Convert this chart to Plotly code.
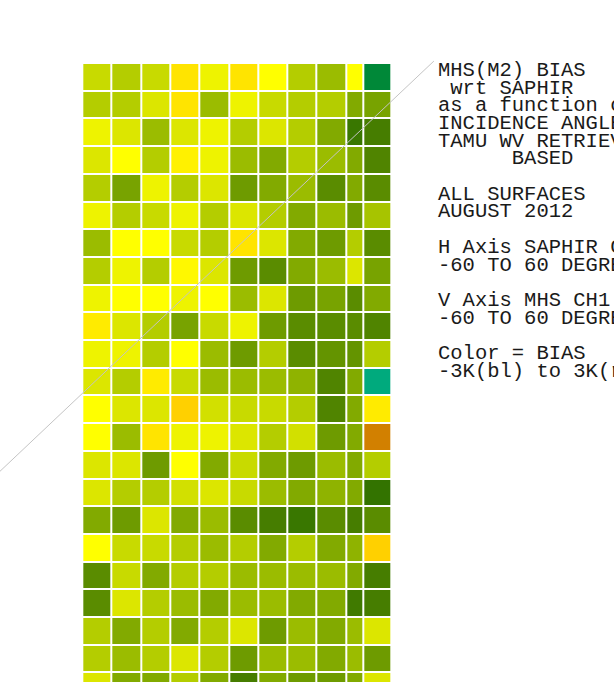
import plotly.graph_objects as go

# Column bin edges (SAPHIR angle bins, in bin units) and row bin edges (MHS angle bins)
col_edges = [0, 1, 2, 3, 4, 5, 6, 7, 8, 9, 9.58, 10.56]
row_edges = list(range(24))

# Bias values (K), one list per row, top row first
row01 = [0.3, 0.2, 0.3, 0.8, 0.5, 0.8, 0.6, 0.2, 0.1, 0.6, -0.9]
row02 = [0.2, 0.2, 0.4, 0.8, 0.1, 0.5, 0.3, 0.2, 0.2, 0.0, -0.05]
row03 = [0.5, 0.4, 0.1, 0.4, 0.5, 0.2, 0.4, 0.2, 0.0, -0.4, -0.3]
row04 = [0.4, 0.6, 0.2, 0.7, 0.5, 0.1, 0.0, 0.2, 0.1, 0.0, -0.25]
row05 = [0.2, -0.05, 0.5, 0.2, 0.4, -0.1, 0.0, 0.1, -0.2, 0.0, -0.2]
row06 = [0.5, 0.2, 0.3, 0.5, 0.2, 0.4, 0.2, 0.0, 0.1, -0.1, 0.15]
row07 = [0.1, 0.6, 0.6, 0.3, 0.2, 0.8, 0.4, 0.0, -0.1, 0.2, -0.2]
row08 = [0.2, 0.5, 0.2, 0.65, 0.4, -0.1, -0.2, 0.0, 0.1, 0.4, -0.05]
row09 = [0.5, 0.6, 0.6, 0.5, 0.6, 0.1, 0.4, -0.1, -0.05, -0.2, 0.0]
row10 = [0.75, 0.4, 0.2, -0.05, 0.3, 0.5, -0.1, -0.2, -0.2, -0.2, -0.25]
row11 = [0.5, 0.5, 0.2, 0.6, 0.1, -0.1, 0.2, -0.2, -0.15, -0.15, 0.2]
row12 = [0.4, 0.2, 0.75, 0.3, 0.1, 0.1, 0.1, 0.05, -0.25, 0.0, -1.3]
row13 = [0.6, 0.4, 0.4, 1.0, 0.35, 0.3, 0.3, 0.2, -0.25, 0.0, 0.75]
row14 = [0.6, 0.1, 0.8, 0.5, 0.5, 0.4, 0.2, 0.35, -0.1, 0.0, 1.8]
row15 = [0.4, 0.4, -0.1, 0.6, 0.0, 0.3, 0.0, -0.1, 0.1, 0.0, 0.2]
row16 = [0.4, 0.2, 0.2, 0.35, 0.4, 0.3, 0.1, 0.0, 0.05, 0.0, -0.45]
row17 = [0.0, -0.1, 0.4, 0.0, 0.1, -0.2, -0.3, -0.4, -0.2, -0.3, -0.2]
row18 = [0.6, 0.3, 0.3, 0.2, 0.1, 0.2, 0.0, 0.2, 0.0, 0.05, 1.0]
row19 = [-0.2, 0.3, 0.0, 0.2, 0.2, 0.1, 0.1, 0.1, 0.1, 0.0, -0.3]
row20 = [-0.2, 0.4, 0.2, 0.1, 0.0, 0.1, 0.1, 0.0, 0.0, -0.35, -0.3]
row21 = [0.2, 0.0, 0.2, 0.0, 0.2, 0.4, -0.1, 0.1, 0.0, 0.1, 0.4]
row22 = [0.2, 0.1, 0.2, 0.4, 0.2, -0.1, 0.1, 0.1, 0.0, 0.1, -0.1]
row23 = [0.4, 0.0, 0.0, 0.2, 0.0, -0.3, 0.0, -0.1, -0.1, 0.0, 0.4]

bias = [row01, row02, row03, row04, row05, row06, row07, row08, row09, row10,
        row11, row12, row13, row14, row15, row16, row17, row18, row19, row20,
        row21, row22, row23]

# Equal-angle reference line (bin units)
diag_x = [12.0, -4.0]
diag_y = [-0.07, 15.93]

caption = [
    "MHS(M2) BIAS",
    " wrt SAPHIR",
    "as a function of",
    "INCIDENCE ANGLE",
    "TAMU WV RETRIEVAL",
    "      BASED",
    "",
    "ALL SURFACES",
    "AUGUST 2012",
    "",
    "H Axis SAPHIR CH",
    "-60 TO 60 DEGREES",
    "",
    "V Axis MHS CH1",
    "-60 TO 60 DEGREES",
    "",
    "Color = BIAS",
    "-3K(bl) to 3K(rd)",
]

zmin, zmax = -3.0, 3.0
stops = [
    (-3.0, "rgb(0,0,255)"),
    (-1.8, "rgb(0,140,200)"),
    (-1.3, "rgb(0,170,125)"),
    (-0.9, "rgb(0,136,56)"),
    (-0.5, "rgb(45,112,0)"),
    (-0.3, "rgb(70,125,0)"),
    (0.0, "rgb(130,170,0)"),
    (0.2, "rgb(180,205,0)"),
    (0.4, "rgb(220,230,0)"),
    (0.6, "rgb(255,255,0)"),
    (0.8, "rgb(255,228,0)"),
    (1.0, "rgb(255,208,0)"),
    (1.8, "rgb(210,128,0)"),
    (3.0, "rgb(255,0,0)"),
]
colorscale = [[(v - zmin) / (zmax - zmin), c] for v, c in stops]

W, H = 614, 682
fig = go.Figure()
fig.add_trace(go.Heatmap(
    z=bias, x=col_edges, y=row_edges,
    zmin=zmin, zmax=zmax, colorscale=colorscale,
    showscale=False, xgap=2, ygap=2, hoverinfo="skip",
))
fig.add_trace(go.Scatter(
    x=diag_x, y=diag_y, mode="lines",
    line=dict(color="#c4c4c4", width=1), hoverinfo="skip", showlegend=False,
))

x_px0, x_pitch = 82.3, 29.3
y_px0, y_pitch = 63.0, 27.7
fig.update_xaxes(visible=False, range=[-x_px0 / x_pitch, (W - x_px0) / x_pitch])
fig.update_yaxes(visible=False, range=[(H - y_px0) / y_pitch, -y_px0 / y_pitch])

annotations = []
for k, line in enumerate(caption):
    if not line:
        continue
    cy = 70.3 + 17.7 * k
    annotations.append(dict(
        text=line.replace(" ", "\u00a0"), xref="paper", yref="paper",
        x=436 / W, y=1 - cy / H, xanchor="left", yanchor="middle",
        showarrow=False, align="left",
        font=dict(family="Liberation Mono, Courier New, monospace", size=20.5, color="#1a1a1a"),
    ))

fig.update_layout(
    width=W, height=H, margin=dict(l=0, r=0, t=0, b=0),
    paper_bgcolor="white", plot_bgcolor="white",
    showlegend=False, annotations=annotations,
)
# remove the default page margin so the figure fills the window
fig.write_html("out.html", config={"displayModeBar": False},
               post_script="document.body.style.margin='0';document.body.style.overflow='hidden';")
